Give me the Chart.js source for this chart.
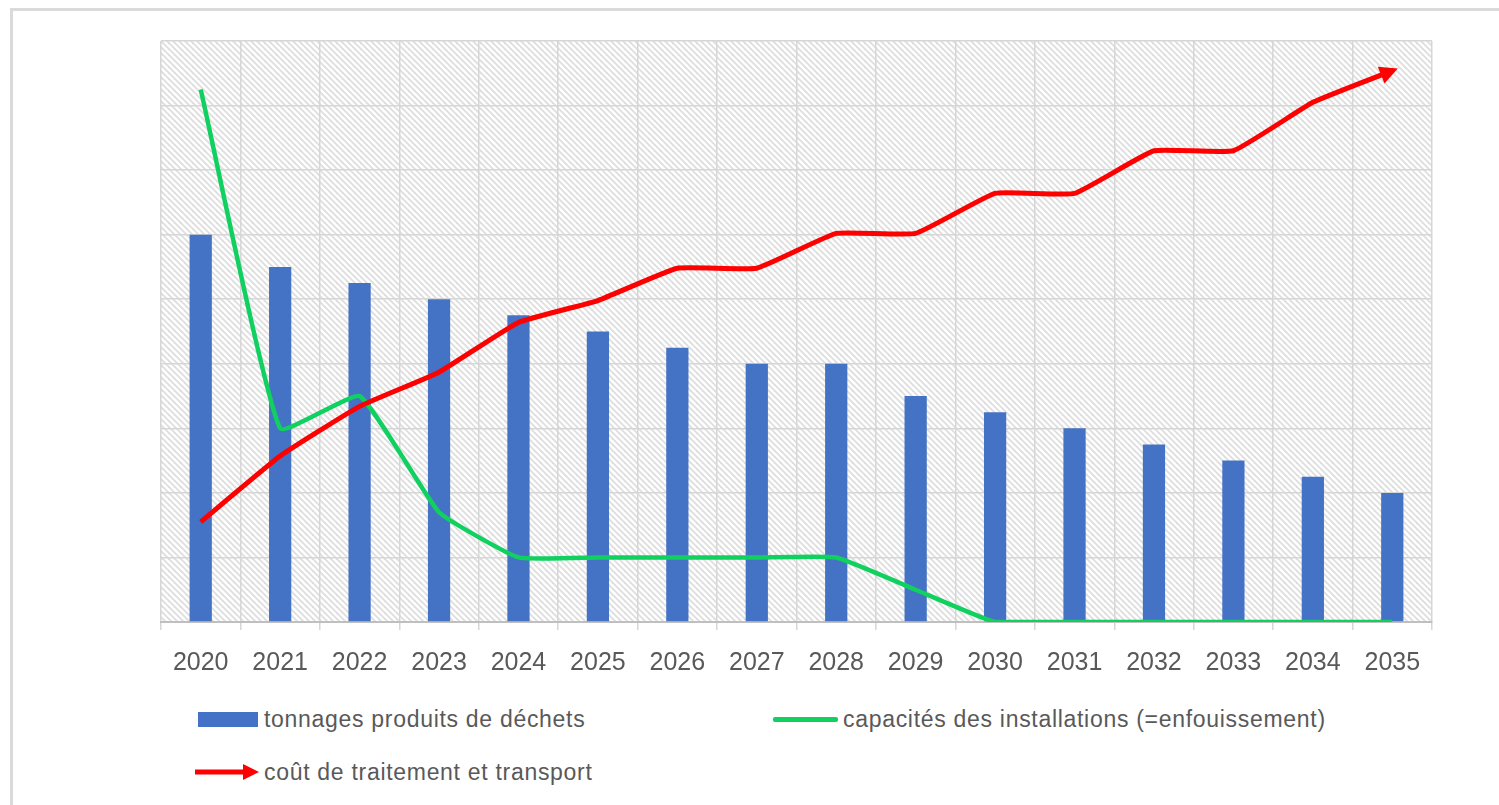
<!DOCTYPE html>
<html><head><meta charset="utf-8">
<script src="https://cdn.jsdelivr.net/npm/chart.js@4"></script>
<style>
html,body{margin:0;padding:0;background:#fff;width:1499px;height:805px;overflow:hidden;}
#frame{position:absolute;left:10px;top:8px;width:1600px;height:900px;border-left:3px solid #dadada;border-top:3px solid #dadada;}
#wrap{position:absolute;left:0;top:0;width:1499px;height:697px;}
.leg{position:absolute;font-family:"Liberation Sans",Arial,sans-serif;font-size:23px;color:#595959;letter-spacing:0.7px;white-space:nowrap;line-height:26px;}
.sw{position:absolute;}
</style>
</head><body>
<div id="frame"></div>
<div id="wrap"><canvas id="c"></canvas></div>
<div class="sw" style="left:198px;top:712px;width:60px;height:15px;background:#4472C4;"></div>
<div class="leg" style="left:264px;top:706px;">tonnages produits de déchets</div>
<div class="sw" style="left:773px;top:717px;width:65px;height:5px;background:#10d060;border-radius:2px;"></div>
<div class="leg" style="left:843px;top:706px;">capacités des installations (=enfouissement)</div>
<svg class="sw" style="left:193px;top:762px;" width="68" height="20"><line x1="2" y1="10" x2="52" y2="10" stroke="#ff0000" stroke-width="5"/><polygon points="66,10 50,2 50,18" fill="#ff0000"/></svg>
<div class="leg" style="left:264px;top:759px;">coût de traitement et transport</div>
<script>
const years = ['2020','2021','2022','2023','2024','2025','2026','2027','2028','2029','2030','2031','2032','2033','2034','2035'];
const tonnages = [6,5.5,5.25,5,4.75,4.5,4.25,4,4,3.5,3.25,3,2.75,2.5,2.25,2];
const capacites = [8.25,3,3.5,1.7,1,1,1,1,1,0.5,0,0,0,0,0,0];
const couts = [1.55,2.57,3.34,3.87,4.64,4.98,5.48,5.48,6.02,6.02,6.64,6.64,7.3,7.3,8.05,8.54];

function makePattern(){
  const s=6, pc=document.createElement('canvas'); pc.width=s; pc.height=s;
  const g=pc.getContext('2d'); g.fillStyle='#ffffff'; g.fillRect(0,0,s,s);
  g.strokeStyle='#dedede'; g.lineWidth=1.8;
  for(let k=-1;k<=1;k++){ g.beginPath(); g.moveTo(-s,-s+k*s); g.lineTo(2*s,2*s+k*s); g.stroke(); }
  return pc;
}
const hatch = {id:'hatch', beforeDraw(chart){
  const {ctx, chartArea:a}=chart;
  ctx.save(); ctx.fillStyle=ctx.createPattern(makePattern(),'repeat');
  ctx.fillRect(a.left,a.top,a.right-a.left,a.bottom-a.top); ctx.restore();
}};
const arrow = {id:'arrow', afterDatasetsDraw(chart){
  const pts=chart.getDatasetMeta(2).data, n=pts.length;
  const p1=pts[n-1], p0=pts[n-2];
  const ang=Math.atan2(p1.y-p0.y,p1.x-p0.x), ctx=chart.ctx;
  ctx.save(); ctx.translate(p1.x,p1.y); ctx.rotate(ang);
  ctx.beginPath(); ctx.moveTo(6,0); ctx.lineTo(-12,-9); ctx.lineTo(-12,9); ctx.closePath();
  ctx.fillStyle='#ff0000'; ctx.fill(); ctx.restore();
}};
new Chart(document.getElementById('c'),{
  type:'bar',
  data:{labels:years,datasets:[
    {type:'bar',label:'tonnages produits de déchets',data:tonnages,backgroundColor:'#4472C4',barPercentage:0.28,categoryPercentage:1,order:2},
    {type:'line',label:'capacités des installations (=enfouissement)',data:capacites,borderColor:'#10d060',borderWidth:4.5,pointRadius:0,tension:0.12,order:1},
    {type:'line',label:'coût de traitement et transport',data:couts,borderColor:'#ff0000',borderWidth:5,pointRadius:0,tension:0.12,order:0}
  ]},
  options:{
    responsive:true,maintainAspectRatio:false,animation:false,
    layout:{padding:{left:161,right:67,top:41,bottom:1}},
    plugins:{legend:{display:false},tooltip:{enabled:false}},
    scales:{
      x:{grid:{color:'#d6d6d6',lineWidth:1.5,tickLength:8,offset:true},border:{color:'#bfbfbf',width:2},
         ticks:{color:'#595959',padding:18,font:{family:'"Liberation Sans", Arial, sans-serif',size:25}}},
      y:{min:0,max:9,ticks:{display:false,stepSize:1},grid:{color:'#d6d6d6',lineWidth:1.5,drawTicks:false},border:{display:false}}
    }
  },
  plugins:[hatch,arrow]
});
</script>
</body></html>
